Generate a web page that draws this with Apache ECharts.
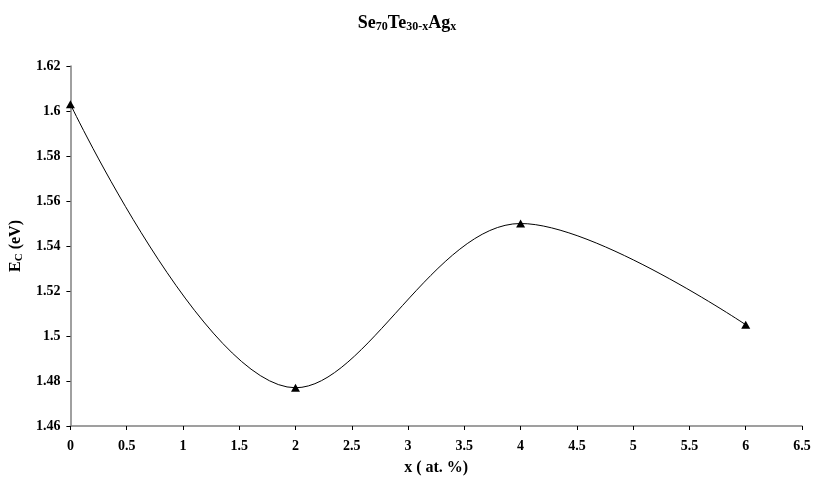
<!DOCTYPE html>
<html>
<head>
<meta charset="utf-8">
<script src="https://cdn.jsdelivr.net/npm/echarts@6/dist/echarts.min.js"></script>
<style>
html, body { margin: 0; padding: 0; background: #fff; }
#chart { width: 814px; height: 481px; }
</style>
</head>
<body>
<div id="chart"></div>
<script>
// x (at. %) and E_C (eV)
const xValues = [0, 2, 4, 6]
const ecValues = [1.603, 1.477, 1.55, 1.505]
const xTicks = { min: 0, max: 6.5, interval: 0.5 }
const yTicks = { min: 1.46, max: 1.62, interval: 0.02 }

const font = 'Liberation Serif'
let chart = echarts.init(document.getElementById('chart'))

chart.setOption({
  backgroundColor: '#fff',
  animation: false,
  title: {
    text: 'Se{s|70}Te{s|30-x}Ag{s|x}',
    left: 'center',
    top: 8,
    textStyle: {
      fontFamily: font,
      fontWeight: 'bold',
      fontSize: 18,
      color: '#000',
      rich: {
        s: { fontFamily: font, fontWeight: 'bold', fontSize: 12, color: '#000', padding: [8, 0, 0, 0] }
      }
    }
  },
  grid: { left: 70, right: 12, top: 66, bottom: 53 },
  xAxis: {
    type: 'value',
    min: xTicks.min,
    max: xTicks.max,
    interval: xTicks.interval,
    name: 'x ( at. %)',
    nameLocation: 'middle',
    nameGap: 34,
    nameTextStyle: { fontFamily: font, fontWeight: 'bold', fontSize: 16, color: '#000' },
    axisLine: { lineStyle: { color: '#808080', width: 1.5 } },
    axisTick: { show: true, length: 4, lineStyle: { color: '#000' } },
    axisLabel: { fontFamily: font, fontWeight: 'bold', fontSize: 14, color: '#000', margin: 13 },
    splitLine: { show: false }
  },
  yAxis: {
    type: 'value',
    min: yTicks.min,
    max: yTicks.max,
    interval: yTicks.interval,
    name: 'E{s|C} (eV)',
    nameLocation: 'middle',
    nameGap: 45,
    nameTextStyle: {
      fontFamily: font, fontWeight: 'bold', fontSize: 16, color: '#000',
      rich: {
        s: { fontFamily: font, fontWeight: 'bold', fontSize: 11, color: '#000', padding: [7, 0, 0, 0] }
      }
    },
    axisLine: { show: true, lineStyle: { color: '#808080', width: 1.5 } },
    axisTick: { show: true, length: 4, lineStyle: { color: '#000' } },
    axisLabel: { fontFamily: font, fontWeight: 'bold', fontSize: 14, color: '#000', margin: 10 },
    splitLine: { show: false }
  },
  series: [
    {
      type: 'line',
      data: xValues.map((x, i) => [x, ecValues[i]]),
      smooth: 0.35,
      clip: false,
      symbol: 'triangle',
      symbolSize: [9, 8],
      itemStyle: { color: '#000' },
      lineStyle: { color: '#000', width: 1 }
    }
  ]
})
</script>
</body>
</html>
